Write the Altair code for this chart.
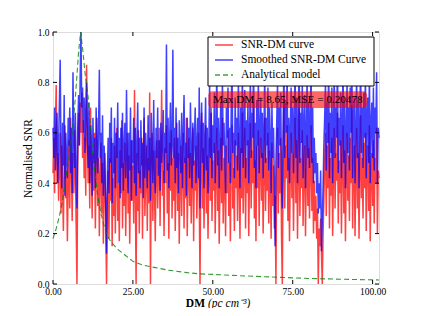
import altair as alt
import pandas as pd

# SNR-DM curve, sampled every 0.25 pc cm^-3 from DM = 0 to 102
snr = [
    0.44, 0.58, 0.36, 0.62, 0.79, 0.40, 0.52, 0.33, 0.47, 0.60,
    0.28, 0.55, 0.38, 0.21, 0.50, 0.63, 0.34, 0.45, 0.17, 0.40,
    0.57, 0.30, 0.66, 0.48, 0.25, 0.52, 0.36, 0.61, 0.44, 0.23,
    0.00, 0.47, 0.68, 0.55, 0.72, 0.60, 0.76, 0.50, 0.65, 0.42,
    0.58, 0.35, 0.87, 0.62, 0.40, 0.55, 0.30, 0.70, 0.48, 0.26,
    0.52, 0.37, 0.60, 0.22, 0.45, 0.66, 0.31, 0.50, 0.19, 0.43,
    0.56, 0.28, 0.48, 0.16, 0.38, 0.52, 0.24, 0.00, 0.30, 0.45,
    0.18, 0.50, 0.33, 0.58, 0.15, 0.42, 0.27, 0.55, 0.20, 0.46,
    0.62, 0.25, 0.40, 0.17, 0.53, 0.36, 0.65, 0.22, 0.48, 0.31,
    0.56, 0.19, 0.44, 0.60, 0.28, 0.51, 0.16, 0.40, 0.57, 0.33,
    0.47, 0.24, 0.77, 0.38, 0.00, 0.52, 0.29, 0.61, 0.20, 0.45,
    0.36, 0.58, 0.18, 0.49, 0.66, 0.27, 0.43, 0.55, 0.21, 0.50,
    0.32, 0.76, 0.00, 0.46, 0.60, 0.25, 0.53, 0.38, 0.17, 0.48,
    0.57, 0.30, 0.44, 0.62, 0.23, 0.51, 0.77, 0.35, 0.45, 0.19,
    0.54, 0.40, 0.63, 0.28, 0.48, 0.18, 0.56, 0.37, 0.61, 0.26,
    0.50, 0.33, 0.58, 0.21, 0.45, 0.64, 0.29, 0.52, 0.16, 0.41,
    0.55, 0.27, 0.47, 0.60, 0.22, 0.50, 0.34, 0.66, 0.19, 0.43,
    0.58, 0.31, 0.52, 0.24, 0.46, 0.62, 0.17, 0.49, 0.37, 0.55,
    0.26, 0.44, 0.60, 0.35, 0.00, 0.50, 0.68, 0.30, 0.54, 0.22,
    0.47, 0.63, 0.28, 0.51, 0.18, 0.42, 0.58, 0.33, 0.70, 0.25,
    0.49, 0.37, 0.56, 0.20, 0.45, 0.62, 0.29, 0.53, 0.16, 0.40,
    0.58, 0.32, 0.66, 0.24, 0.50, 0.41, 0.19, 0.55, 0.36, 0.61,
    0.27, 0.48, 0.17, 0.52, 0.63, 0.30, 0.46, 0.21, 0.57, 0.38,
    0.51, 0.25, 0.60, 0.43, 0.18, 0.54, 0.34, 0.68, 0.28, 0.47,
    0.62, 0.22, 0.50, 0.36, 0.57, 0.19, 0.45, 0.64, 0.30, 0.53,
    0.40, 0.72, 0.26, 0.49, 0.17, 0.55, 0.38, 0.61, 0.23, 0.47,
    0.58, 0.33, 0.52, 0.20, 0.44, 0.66, 0.29, 0.50, 0.37, 0.60,
    0.24, 0.53, 0.41, 0.18, 0.56, 0.31, 0.47, 0.22, 0.35, 0.00,
    0.45, 0.62, 0.28, 0.52, 0.36, 0.58, 0.19, 0.00, 0.48, 0.75,
    0.30, 0.55, 0.42, 0.63, 0.25, 0.50, 0.17, 0.46, 0.60, 0.34,
    0.52, 0.21, 0.48, 0.66, 0.32, 0.57, 0.18, 0.44, 0.70, 0.27,
    0.50, 0.38, 0.61, 0.23, 0.47, 0.55, 0.19, 0.42, 0.59, 0.31,
    0.54, 0.26, 0.46, 0.63, 0.29, 0.50, 0.20, 0.41, 0.25, 0.35,
    0.18, 0.30, 0.00, 0.22, 0.15, 0.26, 0.12, 0.00, 0.20, 0.33,
    0.48, 0.60, 0.27, 0.55, 0.38, 0.64, 0.22, 0.50, 0.35, 0.58,
    0.19, 0.45, 0.62, 0.30, 0.52, 0.41, 0.68, 0.24, 0.49, 0.36,
    0.57, 0.20, 0.46, 0.63, 0.28, 0.53, 0.17, 0.44, 0.60, 0.33,
    0.51, 0.25, 0.58, 0.40, 0.71, 0.22, 0.47, 0.55, 0.19, 0.43,
    0.62, 0.30, 0.52, 0.18, 0.45, 0.67, 0.34, 0.50, 0.26, 0.56,
    0.38, 0.60, 0.21, 0.48, 0.55, 0.29, 0.63, 0.17, 0.44, 0.52,
    0.31, 0.57, 0.24, 0.50, 0.40, 0.62, 0.20, 0.45, 0.42,
]

# Smoothed SNR-DM curve, same DM grid
smoothed = [
    0.62, 0.50, 0.70, 0.45, 0.58, 0.68, 0.40, 0.55, 0.72, 0.89,
    0.52, 0.38, 0.64, 0.47, 0.75, 0.35, 0.60, 0.50, 0.42, 0.66,
    0.55, 0.70, 0.44, 0.62, 0.36, 0.84, 0.58, 0.46, 0.68, 0.40,
    0.30, 0.62, 0.75, 0.55, 0.82, 1.00, 0.70, 0.78, 0.60, 0.74,
    0.52, 0.68, 0.80, 0.58, 0.46, 0.72, 0.40, 0.63, 0.55, 0.35,
    0.66, 0.48, 0.58, 0.38, 0.70, 0.52, 0.44, 0.62, 0.85, 0.50,
    0.60, 0.40, 0.67, 0.35, 0.55, 0.45, 0.30, 0.12, 0.42, 0.58,
    0.36, 0.64, 0.48, 0.70, 0.32, 0.56, 0.44, 0.66, 0.38, 0.60,
    0.50, 0.72, 0.40, 0.58, 0.34, 0.62, 0.46, 0.68, 0.37, 0.55,
    0.64, 0.42, 0.77, 0.50, 0.36, 0.60, 0.45, 0.70, 0.33, 0.57,
    0.48, 0.66, 0.40, 0.62, 0.35, 0.55, 0.72, 0.44, 0.58, 0.38,
    0.65, 0.47, 0.56, 0.34, 0.70, 0.42, 0.60, 0.50, 0.38, 0.67,
    0.45, 0.58, 0.33, 0.68, 0.52, 0.40, 0.73, 0.46, 0.36, 0.62,
    0.50, 0.70, 0.43, 0.57, 0.37, 0.64, 0.48, 0.55, 0.69, 0.40,
    0.60, 0.52, 0.95, 0.45, 0.66, 0.38, 0.58, 0.72, 0.47, 0.55,
    0.93, 0.50, 0.62, 0.40, 0.70, 0.46, 0.58, 0.36, 0.65, 0.52,
    0.44, 0.68, 0.38, 0.60, 0.75, 0.48, 0.56, 0.35, 0.66, 0.50,
    0.62, 0.42, 0.72, 0.53, 0.38, 0.64, 0.47, 0.58, 0.70, 0.40,
    0.55, 0.66, 0.42, 0.78, 0.30, 0.60, 0.72, 0.48, 0.64, 0.38,
    0.58, 0.74, 0.45, 0.62, 0.36, 0.55, 0.80, 0.50, 0.68, 0.42,
    0.63, 0.52, 0.76, 0.40, 0.60, 0.85, 0.47, 0.66, 0.38, 0.58,
    0.72, 0.45, 0.82, 0.55, 0.64, 0.50, 0.36, 0.70, 0.58, 0.78,
    0.48, 0.62, 0.40, 0.68, 0.88, 0.52, 0.60, 0.42, 0.74, 0.55,
    0.66, 0.45, 0.80, 0.58, 0.38, 0.70, 0.52, 0.86, 0.46, 0.63,
    0.77, 0.42, 0.65, 0.55, 0.72, 0.40, 0.60, 0.82, 0.50, 0.68,
    0.58, 0.90, 0.46, 0.64, 0.38, 0.73, 0.55, 0.80, 0.44, 0.62,
    0.74, 0.50, 0.68, 0.42, 0.60, 0.84, 0.48, 0.66, 0.55, 0.78,
    0.45, 0.70, 0.58, 0.36, 0.72, 0.50, 0.62, 0.40, 0.15, 0.48,
    0.64, 0.80, 0.46, 0.70, 0.55, 0.76, 0.38, 0.30, 0.62, 0.88,
    0.50, 0.72, 0.60, 0.84, 0.45, 0.66, 0.40, 0.62, 0.78, 0.52,
    0.70, 0.44, 0.66, 0.85, 0.50, 0.74, 0.40, 0.62, 0.90, 0.48,
    0.68, 0.56, 0.80, 0.42, 0.64, 0.75, 0.38, 0.60, 0.82, 0.50,
    0.72, 0.46, 0.66, 0.86, 0.48, 0.70, 0.40, 0.58, 0.44, 0.52,
    0.36, 0.48, 0.28, 0.40, 0.30, 0.45, 0.13, 0.25, 0.38, 0.55,
    0.66, 0.80, 0.45, 0.72, 0.56, 0.88, 0.42, 0.68, 0.52, 0.78,
    0.40, 0.64, 0.84, 0.50, 0.70, 0.58, 0.92, 0.44, 0.66, 0.55,
    0.76, 0.42, 0.64, 0.86, 0.48, 0.72, 0.38, 0.62, 0.80, 0.52,
    0.70, 0.45, 0.78, 0.60, 0.90, 0.42, 0.66, 0.74, 0.40, 0.62,
    0.82, 0.50, 0.72, 0.38, 0.64, 0.88, 0.52, 0.70, 0.46, 0.76,
    0.58, 0.84, 0.42, 0.68, 0.74, 0.48, 0.86, 0.40, 0.64, 0.72,
    0.50, 0.78, 0.45, 0.70, 0.60, 0.84, 0.40, 0.62, 0.58,
]

# Analytical model
model_dm = [0, 1, 2, 3, 4, 5, 6, 7, 7.5, 8, 8.65, 9.3, 10, 11, 12, 13, 14,
            15, 16, 17, 18, 20, 22.5, 25, 28, 32, 36, 42, 46, 50, 60, 70,
            80, 90, 102]
model_snr = [0.18, 0.22, 0.27, 0.33, 0.42, 0.50, 0.60, 0.74, 0.83, 0.92,
             1.00, 0.93, 0.84, 0.74, 0.58, 0.45, 0.35, 0.28, 0.23, 0.19,
             0.17, 0.14, 0.115, 0.09, 0.075, 0.065, 0.055, 0.045, 0.040,
             0.038, 0.032, 0.027, 0.022, 0.019, 0.016]

x_ticks = [0, 25, 50, 75, 100]
y_ticks = [0.0, 0.2, 0.4, 0.6, 0.8, 1.0]
names = ["SNR-DM curve", "Smoothed SNR-DM Curve", "Analytical model"]
colors = ["red", "blue", "green"]
dashes = [[1, 0], [1, 0], [5, 3]]
note = "Max DM = 8.65, MSE = 0.20478"

dm_step = 0.25
rows = []
for i, v in enumerate(snr):
    rows.append({"dm": i * dm_step, "v": v, "s": names[0]})
for i, v in enumerate(smoothed):
    rows.append({"dm": i * dm_step, "v": v, "s": names[1]})
for d, v in zip(model_dm, model_snr):
    rows.append({"dm": d, "v": v, "s": names[2]})
df = pd.DataFrame(rows)

W, H = 326, 252
FONT = "Liberation Serif"

xs = alt.Scale(domain=[0, 102], nice=False, zero=False)
ys = alt.Scale(domain=[0, 1], nice=False, zero=False)
cs = alt.Scale(domain=names, range=colors)
ds = alt.Scale(domain=names, range=dashes)

base = alt.Chart(df)

def series_layer(name, width, opacity):
    return base.transform_filter(alt.datum.s == name).mark_line(
        strokeWidth=width, opacity=opacity
    ).encode(
        x=alt.X("dm:Q", scale=xs, axis=alt.Axis(
            values=x_ticks, format=".2f", ticks=False, domain=False, grid=False,
            title=None, labelFont=FONT, labelFontSize=9.5, labelColor="black",
            labelPadding=2, labelFlush=False)),
        y=alt.Y("v:Q", scale=ys, axis=alt.Axis(
            values=y_ticks, format=".1f", ticks=False, domain=False, grid=False,
            title="Normalised SNR", titleFont=FONT, titleFontSize=11.5,
            titleFontWeight="normal", titleColor="black", titlePadding=4,
            labelFont=FONT, labelFontSize=9.5, labelColor="black",
            labelPadding=4, labelFlush=False)),
        color=alt.Color("s:N", scale=cs, legend=None),
        strokeDash=alt.StrokeDash("s:N", scale=ds, legend=None),
    )

red = series_layer(names[0], 1.5, 0.75)
blue = series_layer(names[1], 1.5, 0.75)
green = series_layer(names[2], 1.1, 0.8)

# legend (box, sample lines, labels)
one = pd.DataFrame({"k": [0]})
legend_layers = [
    alt.Chart(one).mark_rect(fill="white", stroke="black", strokeWidth=1).encode(
        x=alt.value(155), x2=alt.value(321), y=alt.value(5), y2=alt.value(54))
]
for k, (nm, col, dsh) in enumerate(zip(names, colors, dashes)):
    py = 13 + 15 * k
    legend_layers.append(
        alt.Chart(one).mark_rule(color=col, strokeDash=dsh, strokeWidth=1.3,
                                 opacity=0.75).encode(
            x=alt.value(162), x2=alt.value(180), y=alt.value(py)))
    legend_layers.append(
        alt.Chart(one).mark_text(text=nm, font=FONT, fontSize=11.5, color="black",
                                 align="left", baseline="middle").encode(
            x=alt.value(188), y=alt.value(py)))

# annotation box in data coordinates
ann = pd.DataFrame({"x1": [48.6], "x2": [98.3], "y1": [0.765], "y2": [0.698],
                    "xm": [73.45], "ym": [0.731], "t": [note]})
box = alt.Chart(ann).mark_rect(color="red", opacity=0.6, cornerRadius=4).encode(
    x=alt.X("x1:Q", scale=xs), x2="x2:Q", y=alt.Y("y1:Q", scale=ys), y2="y2:Q")
boxtext = alt.Chart(ann).mark_text(font=FONT, fontSize=11.2, color="black",
                                   baseline="middle").encode(
    x=alt.X("xm:Q", scale=xs), y=alt.Y("ym:Q", scale=ys), text="t:N")

# inward ticks on all four sides
xt = pd.DataFrame({"t": x_ticks})
yt = pd.DataFrame({"t": y_ticks})
tick_style = dict(color="black", strokeWidth=1)
tb = alt.Chart(xt).mark_rule(**tick_style).encode(
    x=alt.X("t:Q", scale=xs), y=alt.value(H), y2=alt.value(H - 4))
tt = alt.Chart(xt).mark_rule(**tick_style).encode(
    x=alt.X("t:Q", scale=xs), y=alt.value(0), y2=alt.value(4))
tl = alt.Chart(yt).mark_rule(**tick_style).encode(
    y=alt.Y("t:Q", scale=ys), x=alt.value(0), x2=alt.value(4))
tr = alt.Chart(yt).mark_rule(**tick_style).encode(
    y=alt.Y("t:Q", scale=ys), x=alt.value(W), x2=alt.value(W - 4))

# x-axis title: bold "DM" + italic units
xt1 = alt.Chart(one).mark_text(text="DM", font=FONT, fontSize=11.5, fontWeight="bold",
                               align="right", color="black").encode(
    x=alt.value(152), y=alt.value(H + 20))
xt2 = alt.Chart(one).mark_text(text="(pc cm\u207b\u00b3)", font=FONT, fontSize=11.5,
                               fontStyle="italic", align="left", color="black").encode(
    x=alt.value(155), y=alt.value(H + 20))

chart = alt.layer(red, blue, green, *legend_layers, box, boxtext,
                  tb, tt, tl, tr, xt1, xt2).properties(
    width=W, height=H,
    autosize=alt.AutoSizeParams(type="none"),
    padding={"left": 45, "top": 24, "right": 34, "bottom": 24},
).configure_view(stroke="black", strokeWidth=1).configure(background="white")

chart.save("out.html", embed_options={"renderer": "svg", "actions": False})
